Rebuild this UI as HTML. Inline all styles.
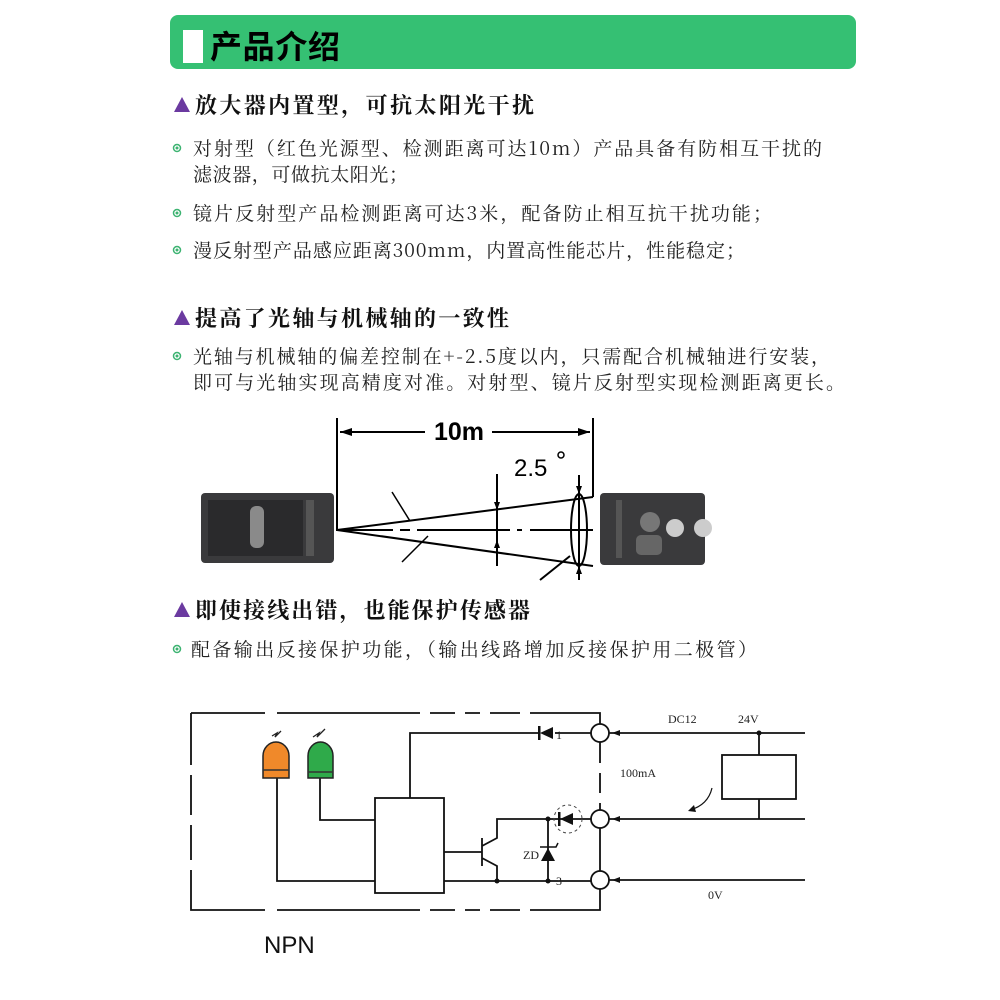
<!DOCTYPE html>
<html><head><meta charset="utf-8"><style>
html,body{margin:0;padding:0;background:#fff;}
svg{display:block}
.h{font-family:"Noto Serif CJK SC","Liberation Serif",serif;font-weight:bold;font-size:22px;fill:#111}
.b{font-family:"Noto Serif CJK SC","Liberation Serif",serif;font-size:19px;fill:#222}
.c{font-family:"Liberation Serif","Noto Serif CJK SC",serif;font-size:12px;fill:#222}
</style></head><body>
<svg width="1000" height="1000" viewBox="0 0 1000 1000" xmlns="http://www.w3.org/2000/svg">
<rect x="170" y="15" width="686" height="54" rx="8" fill="#35c073"/>
<rect x="183" y="30" width="20" height="33" fill="#fff"/>
<text x="210" y="58" font-family="'Noto Sans CJK SC',sans-serif" font-weight="bold" font-size="32" fill="#000" textLength="130" lengthAdjust="spacing">产品介绍</text>

<g fill="#6b3aa0"><polygon points="182,97 174,112 190,112"/><polygon points="182,310 174,325 190,325"/><polygon points="182,602 174,617 190,617"/></g>
<text class="h" x="195" y="113" textLength="339" lengthAdjust="spacing">放大器内置型，可抗太阳光干扰</text>
<text class="h" x="195" y="326" textLength="314" lengthAdjust="spacing">提高了光轴与机械轴的一致性</text>
<text class="h" x="195" y="618" textLength="335" lengthAdjust="spacing">即使接线出错，也能保护传感器</text>

<g fill="#fff" stroke="#3cb371" stroke-width="1.5">
<circle cx="177" cy="148" r="3.5"/><circle cx="177" cy="213" r="3.5"/><circle cx="177" cy="250" r="3.5"/><circle cx="177" cy="356" r="3.5"/><circle cx="177" cy="649" r="3.5"/></g>
<g fill="#3cb371"><circle cx="177" cy="148" r="1.5"/><circle cx="177" cy="213" r="1.5"/><circle cx="177" cy="250" r="1.5"/><circle cx="177" cy="356" r="1.5"/><circle cx="177" cy="649" r="1.5"/></g>
<text class="b" x="193" y="155" textLength="629" lengthAdjust="spacing">对射型（红色光源型、检测距离可达10m）产品具备有防相互干扰的</text>
<text class="b" x="193" y="181" textLength="215" lengthAdjust="spacing">滤波器，可做抗太阳光；</text>
<text class="b" x="193" y="220" textLength="579" lengthAdjust="spacing">镜片反射型产品检测距离可达3米，配备防止相互抗干扰功能；</text>
<text class="b" x="193" y="257" textLength="552" lengthAdjust="spacing">漫反射型产品感应距离300mm，内置高性能芯片，性能稳定；</text>
<text class="b" x="193" y="363" textLength="637" lengthAdjust="spacing">光轴与机械轴的偏差控制在+-2.5度以内，只需配合机械轴进行安装，</text>
<text class="b" x="193" y="389" textLength="652" lengthAdjust="spacing">即可与光轴实现高精度对准。对射型、镜片反射型实现检测距离更长。</text>
<text class="b" x="191" y="656" textLength="566" lengthAdjust="spacing">配备输出反接保护功能，（输出线路增加反接保护用二极管）</text>

<!-- sensors -->
<rect x="201" y="493" width="133" height="70" rx="4" fill="#3a3a3c"/>
<rect x="208" y="500" width="95" height="56" fill="#2a2a2c"/>
<rect x="250" y="506" width="14" height="42" rx="6" fill="#8a8a8a"/>
<rect x="306" y="500" width="8" height="56" fill="#555"/>
<rect x="600" y="493" width="105" height="72" rx="4" fill="#3a3a3c"/>
<rect x="616" y="500" width="6" height="58" fill="#555"/>
<circle cx="650" cy="522" r="10" fill="#777"/><circle cx="675" cy="528" r="9" fill="#ccc"/><circle cx="703" cy="528" r="9" fill="#ccc"/>
<rect x="636" y="535" width="26" height="20" rx="5" fill="#666"/>

<g stroke="#000" stroke-width="2" fill="none">
<line x1="337" y1="418" x2="337" y2="531"/><line x1="593" y1="418" x2="593" y2="497"/>
<line x1="340" y1="432" x2="425" y2="432"/><line x1="492" y1="432" x2="590" y2="432"/>
<line x1="337" y1="530" x2="593" y2="497"/><line x1="337" y1="530" x2="593" y2="566"/>
<line x1="337" y1="530" x2="393" y2="530"/><line x1="400" y1="530" x2="410" y2="530" /><line x1="417" y1="530" x2="510" y2="530"/>
<line x1="517" y1="530" x2="522" y2="530"/><line x1="530" y1="530" x2="593" y2="530"/>
<line x1="497" y1="474" x2="497" y2="566"/><line x1="579" y1="475" x2="579" y2="580"/>
<ellipse cx="579" cy="530" rx="8" ry="36"/>
<line x1="392" y1="492" x2="410" y2="521" stroke-width="1.5"/>
<line x1="402" y1="562" x2="428" y2="536" stroke-width="1.5"/>
<line x1="540" y1="580" x2="570" y2="556"/>
</g>
<g fill="#000"><polygon points="340,432 352,428 352,436"/><polygon points="590,432 578,428 578,436"/>
<polygon points="497,510 494,502 500,502"/><polygon points="497,540 494,548 500,548"/>
<polygon points="579,494 576,486 582,486"/><polygon points="579,566 576,574 582,574"/></g>
<text x="459" y="440" text-anchor="middle" font-family="'Liberation Sans',sans-serif" font-weight="bold" font-size="25" fill="#000">10m</text>
<text x="514" y="476" font-family="'Liberation Sans',sans-serif" font-size="24" fill="#000">2.5</text>
<circle cx="561" cy="455" r="3" fill="none" stroke="#000" stroke-width="1.5"/>

<!-- circuit -->
<g stroke="#111" stroke-width="1.8" fill="none">
<path d="M191,713 H265 M277,713 H420 M430,713 H455 M465,713 H480 M490,713 H520 M530,713 H600 V728"/>
<path d="M191,713 V765 M191,775 V815 M191,825 V860 M191,870 V910 H265 M277,910 H420 M430,910 H455 M465,910 H480 M490,910 H520 M530,910 H600 V889"/>
<path d="M600,742 V763 M600,773 V793 M600,803 V810 M600,828 V871"/>
<rect x="375" y="798" width="69" height="95"/>
<path d="M410,798 V733 H540 M555,733 H591"/>
<path d="M609,733 H805 M609,819 H805 M609,880 H805"/>
<path d="M277,778 V881 H375 M320,778 V820 H375"/>
<path d="M444,881 H591 M444,852 H482 M482,838 V866 M482,846 L497,838 V819 H591 M482,858 L497,866 V881"/>
<path d="M548,819 V881"/>
<path d="M759,733 V755 M759,799 V819"/>
<rect x="722" y="755" width="74" height="44"/>
<path d="M712,788 Q708,805 690,810" stroke-width="1.2"/>
</g>
<g fill="#fff" stroke="#111" stroke-width="1.8">
<ellipse cx="600" cy="733" rx="9" ry="9"/><ellipse cx="600" cy="819" rx="9" ry="9"/><ellipse cx="600" cy="880" rx="9" ry="9"/></g>
<circle cx="568" cy="819" r="14" fill="none" stroke="#444" stroke-width="1" stroke-dasharray="3,3"/>
<g fill="#111">
<polygon points="540,733 553,727 553,739"/><rect x="538" y="726" width="2.5" height="14"/>
<polygon points="560,819 573,813 573,825"/><rect x="558" y="812" width="2.5" height="14"/>
<polygon points="548,848 541,861 555,861"/><path d="M540,847 H556 L558,843" stroke="#111" stroke-width="1.5" fill="none"/>
<circle cx="497" cy="881" r="2.5"/><circle cx="548" cy="881" r="2.5"/><circle cx="548" cy="819" r="2.5"/><circle cx="759" cy="733" r="2.5"/>
<polygon points="612,733 620,730 620,736"/><polygon points="612,819 620,816 620,822"/><polygon points="612,880 620,877 620,883"/>
<polygon points="688,811 694,805 696,812"/>
</g>
<!-- LEDs -->
<path d="M263,778 V756 A13,14 0 0 1 289,756 V778 Z" fill="#f0892a" stroke="#222" stroke-width="1.5"/>
<line x1="263" y1="770" x2="289" y2="770" stroke="#333" stroke-width="1.5"/>
<path d="M308,778 V756 A12.5,14 0 0 1 333,756 V778 Z" fill="#2faa4a" stroke="#222" stroke-width="1.5"/>
<line x1="308" y1="772" x2="333" y2="772" stroke="#333" stroke-width="1.5"/>
<g stroke="#222" stroke-width="1.3" fill="none"><path d="M272,736 l5,-3 l-2,4 l6,-6 M313,737 l6,-4 l-2,4 l8,-8"/></g>
<text class="c" x="668" y="723">DC12</text>
<text class="c" x="738" y="723">24V</text>
<text class="c" x="620" y="777">100mA</text>
<text class="c" x="708" y="899">0V</text>
<text class="c" x="523" y="859">ZD</text>
<text class="c" x="556" y="739" font-size="10">1</text>
<text class="c" x="556" y="885" font-size="10">3</text>
<text x="264" y="953" font-family="'Liberation Sans',sans-serif" font-size="24" fill="#111">NPN</text>
</svg>
</body></html>
